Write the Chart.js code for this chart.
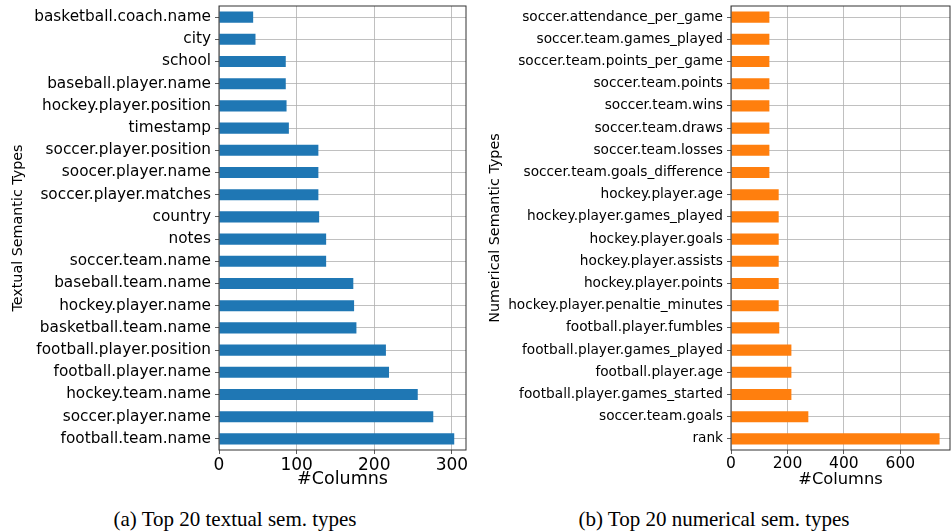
<!DOCTYPE html>
<html>
<head>
<meta charset="utf-8">
<script src="https://cdn.jsdelivr.net/npm/chart.js@4"></script>
<style>
    body { margin: 0; background: #fff; }
    #page { position: relative; width: 952px; height: 532px; overflow: hidden; }
    .panel { position: absolute; top: 0; width: 476px; height: 492px; }
    .caption {
        position: absolute; top: 507px; width: 476px; text-align: center;
        font-family: 'Liberation Serif', serif; font-size: 21px; color: #000;
    }
</style>
</head>
<body>
<div id="page">
    <div class="panel" style="left:0"><canvas id="textualChart"></canvas></div>
    <div class="panel" style="left:476px"><canvas id="numericalChart"></canvas></div>
    <div class="caption" style="left:-3px">(a) Top 20 textual sem. types</div>
    <div class="caption" style="left:476px">(b) Top 20 numerical sem. types</div>
</div>
<script>
// categories listed top to bottom, as in the figure
const textualTypes = [
    'basketball.coach.name', 'city', 'school', 'baseball.player.name',
    'hockey.player.position', 'timestamp', 'soccer.player.position',
    'soocer.player.name', 'soccer.player.matches', 'country', 'notes',
    'soccer.team.name', 'baseball.team.name', 'hockey.player.name',
    'basketball.team.name', 'football.player.position', 'football.player.name',
    'hockey.team.name', 'soccer.player.name', 'football.team.name'
];
const textualCounts = [44, 47, 86, 86, 87, 90, 128, 128, 128, 129, 138, 138, 173, 174, 177, 215, 219, 256, 276, 303];

const numericalTypes = [
    'soccer.attendance_per_game', 'soccer.team.games_played',
    'soccer.team.points_per_game', 'soccer.team.points', 'soccer.team.wins',
    'soccer.team.draws', 'soccer.team.losses', 'soccer.team.goals_difference',
    'hockey.player.age', 'hockey.player.games_played', 'hockey.player.goals',
    'hockey.player.assists', 'hockey.player.points', 'hockey.player.penaltie_minutes',
    'football.player.fumbles', 'football.player.games_played', 'football.player.age',
    'football.player.games_started', 'soccer.team.goals', 'rank'
];
const numericalCounts = [136, 136, 136, 136, 136, 136, 136, 136, 169, 169, 169, 169, 169, 169, 171, 214, 214, 214, 274, 739];

const textualTicks = [0, 100, 200, 300];
const numericalTicks = [0, 200, 400, 600];

const FONT = "'DejaVu Sans', sans-serif";

// black frame around the plot area, like matplotlib spines
const framePlugin = {
    id: 'frame',
    afterDraw(chart) {
        const a = chart.chartArea;
        const ctx = chart.ctx;
        ctx.save();
        ctx.strokeStyle = '#333';
        ctx.lineWidth = 1;
        ctx.strokeRect(a.left, a.top, a.right - a.left, a.bottom - a.top);
        ctx.restore();
    }
};

function makeBarChart(canvasId, labels, values, tickValues, step, color, yTitle, yWidth, padRight, sizes) {
    const ctx = document.getElementById(canvasId).getContext('2d');
    return new Chart(ctx, {
        type: 'bar',
        data: {
            labels: labels,
            datasets: [{
                data: values,
                backgroundColor: color,
                borderWidth: 0,
                barPercentage: 0.5,
                categoryPercentage: 1.0
            }]
        },
        options: {
            indexAxis: 'y',
            responsive: true,
            maintainAspectRatio: false,
            animation: false,
            layout: { padding: { left: 0, top: 0, right: padRight, bottom: 0 } },
            plugins: { legend: { display: false }, tooltip: { enabled: false } },
            scales: {
                x: {
                    min: 0,
                    max: Math.max(...values) * 1.05,
                    z: 1,
                    afterFit: (s) => { s.height = 42; },
                    afterBuildTicks: (s) => { s.ticks = tickValues.map(v => ({ value: v })); },
                    ticks: {
                        stepSize: step,
                        includeBounds: false,
                        color: '#000',
                        padding: 1,
                        font: { family: FONT, size: sizes.xtick }
                    },
                    grid: {
                        color: '#b0b0b0',
                        lineWidth: 0.8,
                        tickColor: '#333',
                        tickLength: 4
                    },
                    border: { display: false },
                    title: {
                        display: true,
                        text: '#Columns',
                        color: '#000',
                        padding: { top: 0, bottom: 2 },
                        font: { family: FONT, size: sizes.xtitle }
                    }
                },
                y: {
                    z: 1,
                    afterFit: (s) => {
                        s.width = yWidth;
                        s.paddingTop = 6;
                        s.paddingBottom = 0;
                    },
                    ticks: {
                        color: '#000',
                        padding: 4,
                        autoSkip: false,
                        font: { family: FONT, size: sizes.ytick }
                    },
                    grid: {
                        offset: false,
                        color: '#b0b0b0',
                        lineWidth: 0.8,
                        tickColor: '#333',
                        tickLength: 4
                    },
                    border: { display: false },
                    title: {
                        display: true,
                        text: yTitle,
                        color: '#000',
                        padding: { top: sizes.ytitlePad, bottom: 0 },
                        font: { family: FONT, size: 14.3 }
                    }
                }
            }
        },
        plugins: [framePlugin]
    });
}

makeBarChart('textualChart', textualTypes, textualCounts, textualTicks, 100, '#1f77b4',
    'Textual Semantic Types', 219, 10, { ytick: 15.3, xtick: 17, xtitle: 17.5, ytitlePad: 10 });
makeBarChart('numericalChart', numericalTypes, numericalCounts, numericalTicks, 200, '#ff7f0e',
    'Numerical Semantic Types', 255, 2, { ytick: 13.7, xtick: 15.5, xtitle: 16.3, ytitlePad: 11 });
</script>
</body>
</html>
